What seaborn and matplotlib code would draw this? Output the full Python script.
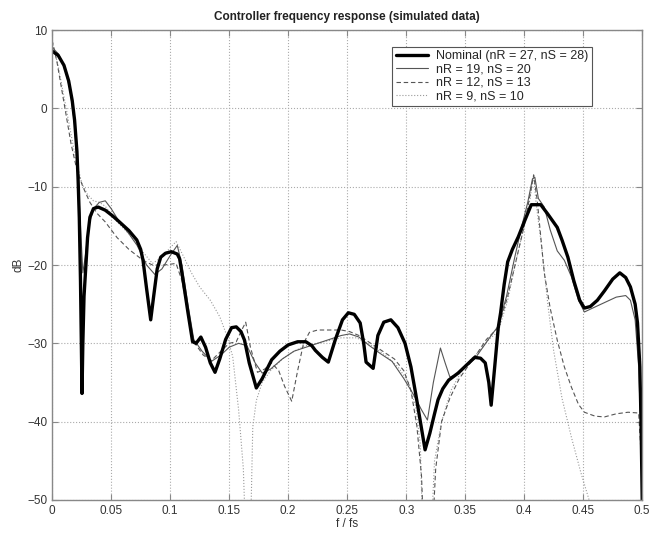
import matplotlib
matplotlib.use("Agg")
import matplotlib.pyplot as plt
import numpy as np
import pandas as pd
import seaborn as sns

# (f/fs, dB)
nominal_f = [0.000, 0.005, 0.010, 0.014, 0.017, 0.019, 0.021, 0.022, 0.023, 0.024,
             0.0253, 0.026, 0.027, 0.028, 0.030, 0.032, 0.035, 0.039, 0.045, 0.051,
             0.057, 0.065, 0.0717, 0.075, 0.077, 0.080, 0.0835, 0.086, 0.089, 0.092,
             0.096, 0.101, 0.106, 0.108, 0.111, 0.115, 0.119, 0.122, 0.126, 0.130,
             0.134, 0.138, 0.142, 0.147, 0.152, 0.156, 0.160, 0.163, 0.167, 0.173,
             0.178, 0.186, 0.193, 0.200, 0.208, 0.215, 0.220, 0.223, 0.229, 0.234,
             0.240, 0.246, 0.251, 0.256, 0.261, 0.264, 0.266, 0.272, 0.276, 0.281,
             0.287, 0.293, 0.299, 0.304, 0.308, 0.312, 0.316, 0.320, 0.324, 0.327,
             0.331, 0.336, 0.344, 0.351, 0.358, 0.363, 0.367, 0.370, 0.372, 0.375,
             0.378, 0.380, 0.383, 0.386, 0.390, 0.395, 0.400, 0.406, 0.414, 0.420,
             0.428, 0.432, 0.437, 0.442, 0.447, 0.451, 0.456, 0.462, 0.468, 0.475,
             0.481, 0.486, 0.490, 0.494, 0.496, 0.498, 0.499, 0.500]
nominal_db = [7.3, 6.8, 5.5, 3.5, 1.0, -1.5, -5.5, -9.2, -14, -22,
              -36.4, -30, -24, -21.5, -16.5, -13.9, -12.8, -12.6, -13.0, -13.7,
              -14.5, -15.6, -16.8, -18.0, -19.4, -23, -27.0, -24, -20.5, -19.0,
              -18.5, -18.3, -18.6, -19.2, -22, -26, -29.8, -30.0, -29.2, -30.5,
              -32.5, -33.7, -32, -29.5, -28.0, -27.9, -28.5, -29.6, -32.5, -35.7,
              -34.5, -32.1, -31, -30.2, -29.8, -29.8, -30.3, -30.9, -31.8, -32.4,
              -29.5, -27, -26.1, -26.3, -27.4, -30, -32.4, -33.2, -29, -27.3,
              -27.0, -28, -30.0, -33, -36.4, -40, -43.6, -41.5, -39, -37.2,
              -35.8, -34.7, -33.8, -32.8, -31.8, -31.9, -32.5, -35, -37.9, -33,
              -28, -26.1, -22.5, -19.6, -18, -16.4, -14.5, -12.3, -12.3, -13.5,
              -15.2, -16.8, -19.0, -22, -24.5, -25.5, -25.3, -24.5, -23.3, -21.8,
              -21.0, -21.6, -22.8, -25, -27.4, -33, -40, -50]

r19_f = [0.000, 0.005, 0.010, 0.015, 0.019, 0.022, 0.024, 0.026, 0.028, 0.031,
         0.035, 0.040, 0.045, 0.050, 0.057, 0.065, 0.072, 0.080, 0.087, 0.093,
         0.100, 0.106, 0.110, 0.115, 0.120, 0.127, 0.135, 0.143, 0.150, 0.158,
         0.165, 0.172, 0.178, 0.185, 0.195, 0.205, 0.215, 0.225, 0.235, 0.245,
         0.252, 0.260, 0.268, 0.278, 0.288, 0.298, 0.306, 0.313, 0.318, 0.323,
         0.329, 0.333, 0.337, 0.343, 0.350, 0.358, 0.365, 0.372, 0.378, 0.385,
         0.392, 0.398, 0.403, 0.407, 0.409, 0.412, 0.417, 0.422, 0.428, 0.434,
         0.440, 0.446, 0.451, 0.458, 0.468, 0.478, 0.486, 0.490, 0.494, 0.497,
         0.499, 0.500]
r19_db = [7.8, 7.0, 5.5, 2.5, -2, -9, -15, -21, -19, -15,
          -12.8, -12.0, -11.8, -12.8, -14.5, -16, -17.5, -20, -21.2, -20.5,
          -18.8, -17.5, -20, -25, -29.5, -31, -32.3, -31.5, -30.5, -30.0,
          -30.3, -32.5, -33.8, -33.3, -32, -31, -30.5, -30, -29.5, -29.0,
          -28.8, -29.2, -30.2, -31.3, -32.3, -34.5, -36.5, -38.5, -39.8, -35,
          -30.6, -32.5, -34.3, -34, -33, -32, -30.5, -29, -27.8, -24,
          -19, -15, -12, -9, -8.8, -11.5, -12.6, -15.5, -18.2, -19.4,
          -21.5, -24.5, -26, -25.5, -24.8, -24.1, -23.9, -24.5, -27, -33,
          -42, -50]

r12_f = [0.000, 0.004, 0.008, 0.012, 0.016, 0.021, 0.026, 0.032, 0.038, 0.045,
         0.055, 0.065, 0.077, 0.085, 0.095, 0.105, 0.110, 0.115, 0.120, 0.128,
         0.135, 0.143, 0.150, 0.156, 0.160, 0.164, 0.168, 0.174, 0.180, 0.186,
         0.192, 0.197, 0.203, 0.208, 0.213, 0.218, 0.225, 0.235, 0.245, 0.252,
         0.260, 0.270, 0.280, 0.290, 0.298, 0.304, 0.309, 0.313, 0.315, 0.322,
         0.325, 0.330, 0.337, 0.345, 0.352, 0.360, 0.368, 0.378, 0.386, 0.393,
         0.400, 0.405, 0.408, 0.411, 0.417, 0.422, 0.428, 0.434, 0.440, 0.446,
         0.451, 0.460, 0.468, 0.478, 0.488, 0.497, 0.499, 0.500]
r12_db = [8.7, 6, 2.5, -1, -4.5, -7.9, -10, -12, -13.4, -14.5,
          -16.5, -18, -19.4, -20, -20, -19.8, -22, -26, -29.8, -31.5,
          -32.2, -31, -30, -29.8, -28.5, -27.3, -30.5, -33.7, -33.3, -32.5,
          -33.5, -35.5, -37.4, -33.5, -30, -28.6, -28.3, -28.3, -28.3, -28.5,
          -29.0, -30, -31, -32, -33.5, -36, -40.5, -47, -55, -55,
          -46, -40, -37, -34.5, -33, -31.3, -29.5, -28, -24, -19.5,
          -15, -11, -8.5, -11.7, -21, -25.5, -29.6, -33, -35.6, -37.8,
          -38.8, -39.3, -39.4, -39, -38.8, -38.9, -44, -50]

r9_f = [0.000, 0.005, 0.010, 0.015, 0.020, 0.025, 0.030, 0.035, 0.040, 0.045,
        0.055, 0.065, 0.075, 0.085, 0.093, 0.100, 0.105, 0.110, 0.118, 0.125,
        0.134, 0.142, 0.148, 0.153, 0.158, 0.162, 0.164, 0.168, 0.170, 0.173,
        0.178, 0.185, 0.195, 0.205, 0.215, 0.230, 0.245, 0.258, 0.270, 0.282,
        0.293, 0.302, 0.308, 0.312, 0.314, 0.321, 0.324, 0.330, 0.338, 0.346,
        0.355, 0.362, 0.370, 0.378, 0.386, 0.393, 0.400, 0.405, 0.408, 0.410,
        0.415, 0.420, 0.425, 0.432, 0.440, 0.448, 0.455, 0.460]
r9_db = [8.5, 5.5, 1.5, -2.5, -6.5, -9.5, -11, -11.8, -12.0, -12.5,
         -14.5, -16, -18, -19.8, -19, -17.8, -17.0, -18.5, -21, -22.8,
         -24.5, -26.6, -29, -31.7, -38.5, -46, -55, -55, -40.7, -37.3,
         -35, -33.5, -32, -31, -30.3, -29.8, -29.3, -29.3, -30.2, -31.5,
         -33, -35, -38, -43, -55, -55, -45, -40, -36, -33.8,
         -32, -31, -29.5, -28.5, -24.5, -19.5, -15, -11.5, -8.5, -12,
         -18, -25, -31, -37, -42, -46.5, -50, -55]

labels = ["Nominal (nR = 27, nS = 28)", "nR = 19, nS = 20",
          "nR = 12, nS = 13", "nR = 9, nS = 10"]

series = [
    (nominal_f, nominal_db, dict(color="black", linewidth=2.4, linestyle="-")),
    (r19_f, r19_db, dict(color="#555555", linewidth=0.8, linestyle="-")),
    (r12_f, r12_db, dict(color="#555555", linewidth=0.8, linestyle=(0, (4, 2.5)))),
    (r9_f, r9_db, dict(color="#999999", linewidth=0.8, linestyle=":")),
]

sns.set_style("ticks")
plt.rcParams["font.family"] = ["Liberation Sans", "DejaVu Sans"]

fig = plt.figure(figsize=(6.52, 5.37), dpi=100)
ax = fig.add_axes([0.08, 0.069, 0.905, 0.875])

# draw weakest lines first so the nominal sits on top
for (f, db, style), label in reversed(list(zip(series, labels))):
    df = pd.DataFrame({"f": f, "dB": db})
    sns.lineplot(data=df, x="f", y="dB", ax=ax, sort=False, estimator=None,
                 label=label, **style)

ax.set_xlim(0, 0.5)
ax.set_ylim(-50, 10)
ax.set_xticks(np.arange(0, 0.501, 0.05))
ax.set_xticklabels(["0", "0.05", "0.1", "0.15", "0.2", "0.25", "0.3",
                    "0.35", "0.4", "0.45", "0.5"])
ax.set_yticks(np.arange(-50, 11, 10))
ax.grid(True, linestyle=":", color="#aaaaaa", linewidth=0.8)
ax.tick_params(direction="in", top=True, right=True, labelsize=8.5,
               labelcolor="#333333", color="#888888", length=4)
for sp in ax.spines.values():
    sp.set_color("#888888")
    sp.set_linewidth(1.0)

ax.set_xlabel("f / fs", fontsize=8.5, color="#333333", labelpad=1)
ax.set_ylabel("dB", fontsize=8.5, color="#333333", labelpad=2)
ax.set_title("Controller frequency response (simulated data)", fontsize=8.5,
             fontweight="bold", color="#222222", pad=7)

handles, leg_labels = ax.get_legend_handles_labels()
leg = ax.legend(handles[::-1], leg_labels[::-1], loc="upper right",
                bbox_to_anchor=(0.925, 0.978), fontsize=9, frameon=True,
                fancybox=False, edgecolor="#555555", framealpha=1,
                handlelength=2.6, borderpad=0.3, labelspacing=0.1,
                handletextpad=0.6)
leg.get_frame().set_linewidth(0.8)

fig.savefig("out.png", dpi=100)
